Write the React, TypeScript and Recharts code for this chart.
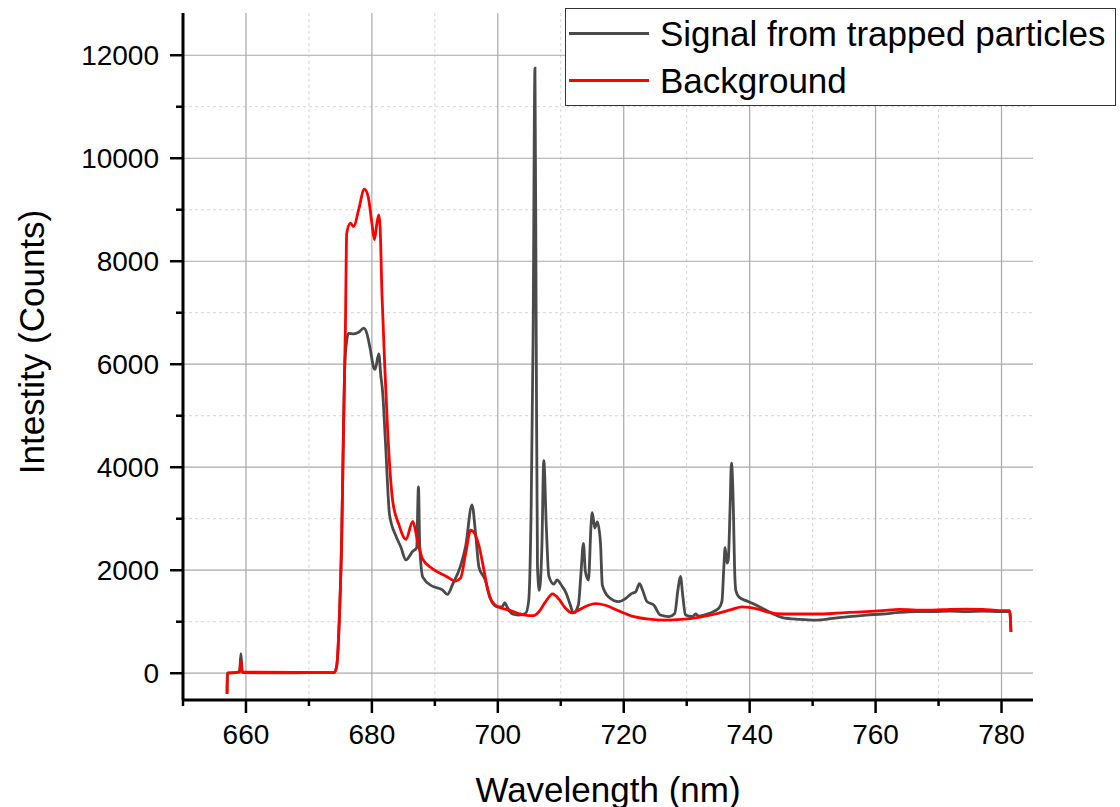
import React from 'react';
import { LineChart, Line, XAxis, YAxis, ReferenceLine } from 'recharts';

// wavelength (nm) / counts
const signalWl = [
  657.0, 657.05, 658.5, 659.0, 659.2, 659.4, 659.7, 665.0, 670.0, 674.0, 674.4, 674.9, 675.2, 675.5,
  675.7, 676.0, 676.3, 677.1, 677.9, 678.7, 679.2, 679.7, 680.3, 680.5, 681.1, 681.4, 681.7, 682.2,
  682.8, 683.8, 684.6, 685.4, 686.5, 687.1, 687.4, 687.6, 688.1, 689.6, 691.2, 692.0, 692.8, 694.1,
  694.9, 695.9, 696.5, 697.0, 698.0, 698.8, 699.9, 700.7, 701.1, 701.5, 702.3, 703.3, 704.4, 704.9,
  705.3, 705.6, 705.9, 706.1, 706.3, 706.6, 707.0, 707.3, 707.7, 708.1, 708.9, 709.4, 710.2, 710.8,
  711.5, 712.0, 712.8, 713.2, 713.6, 713.9, 714.4, 714.8, 715.0, 715.4, 715.8, 716.3, 716.6, 717.6,
  719.2, 720.3, 721.3, 721.9, 722.5, 723.0, 723.7, 724.8, 725.8, 727.2, 728.1, 728.6, 729.0, 729.4,
  729.8, 730.9, 731.4, 731.9, 733.5, 735.1, 735.6, 735.9, 736.1, 736.4, 736.6, 736.9, 737.1, 737.4,
  737.6, 737.8, 738.3, 739.4, 740.4, 742.0, 743.6, 745.2, 747.9, 750.5, 753.2, 755.8, 758.5, 761.1,
  763.8, 766.4, 769.1, 771.8, 774.4, 777.0, 779.7, 781.3, 781.5,
];
const signalCounts = [
  -400, 0, 10, 60, 380, 40, 10, 5, 10, 10, 130, 1300, 2600, 4800,
  6000, 6450, 6600, 6590, 6620, 6700, 6600, 6320, 5930, 5900, 6200, 5800, 5470, 4380,
  3080, 2670, 2450, 2200, 2370, 2430, 3620, 2470, 1860, 1690, 1620, 1530, 1720, 2090,
  2470, 3270, 2670, 2060, 1810, 1450, 1290, 1290, 1370, 1280, 1150, 1130, 1160, 1400,
  3260, 6490, 11750, 6490, 2060, 1610, 2460, 4130, 2860, 1890, 1730, 1810, 1690, 1570,
  1330, 1170, 1330, 1930, 2520, 1980, 1810, 2860, 3120, 2820, 2940, 2540, 1710, 1480,
  1390, 1450, 1550, 1580, 1740, 1610, 1390, 1320, 1130, 1100, 1160, 1610, 1880, 1480,
  1130, 1100, 1150, 1110, 1160, 1260, 1400, 2060, 2440, 2140, 2200, 3260, 4080, 3260,
  2060, 1610, 1480, 1410, 1360, 1260, 1160, 1080, 1045, 1030, 1065, 1100, 1130, 1150,
  1180, 1195, 1195, 1205, 1195, 1205, 1195, 1195, 800,
];

const backgroundWl = [
  657.0, 657.05, 659.0, 659.2, 659.4, 674.0, 674.4, 674.9, 675.2, 675.5, 675.8, 676.0, 676.6, 677.1,
  677.9, 678.8, 679.4, 680.0, 680.4, 680.8, 681.1, 681.3, 681.6, 682.1, 682.5, 683.3, 684.3, 685.4,
  686.5, 687.2, 688.0, 689.6, 691.7, 693.3, 694.1, 694.9, 695.7, 697.0, 697.8, 698.3, 699.1, 700.2,
  701.7, 703.3, 704.9, 705.7, 706.5, 707.6, 708.7, 709.7, 710.7, 711.8, 712.9, 714.4, 715.5, 717.1,
  719.2, 721.3, 724.0, 726.6, 729.2, 731.9, 734.6, 737.2, 738.8, 739.9, 741.5, 743.1, 745.2, 747.9,
  750.5, 753.2, 755.8, 758.5, 761.1, 763.8, 766.4, 769.1, 771.8, 774.4, 777.0, 779.7, 781.3, 781.5,
];
const backgroundCounts = [
  -400, 0, 20, 250, 20, 10, 130, 1300, 2600, 4800, 6770, 8540, 8740, 8670,
  9000, 9400, 9260, 8740, 8420, 8740, 8900, 8670, 7370, 5800, 4720, 3350, 2880, 2600,
  2950, 2600, 2230, 2030, 1890, 1790, 1850, 2330, 2780, 2480, 2000, 1680, 1390, 1280,
  1230, 1160, 1120, 1120, 1190, 1390, 1540, 1440, 1270, 1170, 1230, 1320, 1350, 1320,
  1210, 1110, 1050, 1030, 1045, 1085, 1150, 1240, 1290, 1280, 1240, 1180, 1150, 1150,
  1150, 1160, 1180, 1195, 1215, 1240, 1225, 1225, 1240, 1245, 1240, 1215, 1215, 806,
];

const xMajor = [660, 680, 700, 720, 740, 760, 780];
const xMinor = [650, 670, 690, 710, 730, 750, 770];
const yMajor = [0, 2000, 4000, 6000, 8000, 10000, 12000];
const yMinor = [1000, 3000, 5000, 7000, 9000, 11000];

const signal = signalWl.map((x, i) => ({ x, y: signalCounts[i] }));
const background = backgroundWl.map((x, i) => ({ x, y: backgroundCounts[i] }));

const FONT = '"Liberation Sans", Arial, sans-serif';

const XTick = (props: any) => {
  const { x, y, payload } = props;
  const major = xMajor.includes(payload.value);
  return (
    <g>
      <line x1={x} x2={x} y1={y} y2={y + (major ? 13 : 6)} stroke="#000" strokeWidth={2.5} />
      {major && (
        <text x={x} y={y + 44} textAnchor="middle" fontSize={28} fontFamily={FONT} fill="#000">
          {payload.value}
        </text>
      )}
    </g>
  );
};

const YTick = (props: any) => {
  const { x, y, payload } = props;
  const major = yMajor.includes(payload.value);
  return (
    <g>
      <line x1={x} x2={x - (major ? 13 : 7)} y1={y} y2={y} stroke="#000" strokeWidth={2.5} />
      {major && (
        <text x={x - 24} y={y + 10} textAnchor="end" fontSize={28} fontFamily={FONT} fill="#000">
          {payload.value}
        </text>
      )}
    </g>
  );
};

export default function App() {
  return (
    <div style={{ position: 'absolute', left: 0, top: 0, width: 1120, height: 807, background: '#fff', fontFamily: FONT }}>
      <LineChart width={1120} height={807} margin={{ top: 13, right: 87, bottom: 0, left: 0 }}>
        <XAxis
          type="number"
          dataKey="x"
          domain={[650, 785]}
          ticks={[...xMinor, ...xMajor].sort((a, b) => a - b)}
          interval={0}
          height={107}
          tickSize={0}
          tickMargin={0}
          tickLine={false}
          tick={<XTick />}
          axisLine={{ stroke: '#000', strokeWidth: 3 }}
          allowDataOverflow
        />
        <YAxis
          type="number"
          dataKey="y"
          domain={[-520, 12820]}
          ticks={[...yMinor, ...yMajor].sort((a, b) => a - b)}
          interval={0}
          width={183}
          tickSize={0}
          tickMargin={0}
          tickLine={false}
          tick={<YTick />}
          axisLine={{ stroke: '#000', strokeWidth: 3 }}
          allowDataOverflow
        />
        {xMinor.filter((v) => v !== 650).map((v) => (
          <ReferenceLine key={'xm' + v} x={v} stroke="#d4d4d4" strokeDasharray="3 3" strokeWidth={1} />
        ))}
        {yMinor.map((v) => (
          <ReferenceLine key={'ym' + v} y={v} stroke="#d4d4d4" strokeDasharray="3 3" strokeWidth={1} />
        ))}
        {xMajor.map((v) => (
          <ReferenceLine key={'xM' + v} x={v} stroke="#a8a8a8" strokeWidth={1.2} />
        ))}
        {yMajor.map((v) => (
          <ReferenceLine key={'yM' + v} y={v} stroke="#a8a8a8" strokeWidth={1.2} />
        ))}
        <Line data={signal} dataKey="y" type="monotone" stroke="#4a4a4a" strokeWidth={2.8} dot={false} isAnimationActive={false} />
        <Line data={background} dataKey="y" type="monotone" stroke="#ff0000" strokeWidth={2.8} dot={false} isAnimationActive={false} />
      </LineChart>

      {/* axis titles */}
      <div style={{ position: 'absolute', left: 0, width: 1216, top: 768, textAlign: 'center', fontSize: 35, color: '#000', lineHeight: '44px' }}>
        Wavelength (nm)
      </div>
      <div
        style={{
          position: 'absolute', left: 32, top: 342, width: 400, marginLeft: -200, marginTop: -22,
          transform: 'rotate(-90deg)', textAlign: 'center', fontSize: 35, color: '#000', lineHeight: '44px',
        }}
      >
        Intestity (Counts)
      </div>

      {/* legend */}
      <div style={{ position: 'absolute', left: 565, top: 8, width: 549, height: 96, border: '1.5px solid #333', background: '#fff' }}>
        <div style={{ position: 'absolute', left: 3, top: 23, width: 80, height: 3, background: '#4a4a4a' }} />
        <div style={{ position: 'absolute', left: 94, top: 3, fontSize: 35, lineHeight: '44px', color: '#000', whiteSpace: 'nowrap' }}>
          Signal from trapped particles
        </div>
        <div style={{ position: 'absolute', left: 3, top: 70, width: 80, height: 3, background: '#ff0000' }} />
        <div style={{ position: 'absolute', left: 94, top: 50, fontSize: 35, lineHeight: '44px', color: '#000', whiteSpace: 'nowrap' }}>
          Background
        </div>
      </div>
    </div>
  );
}
